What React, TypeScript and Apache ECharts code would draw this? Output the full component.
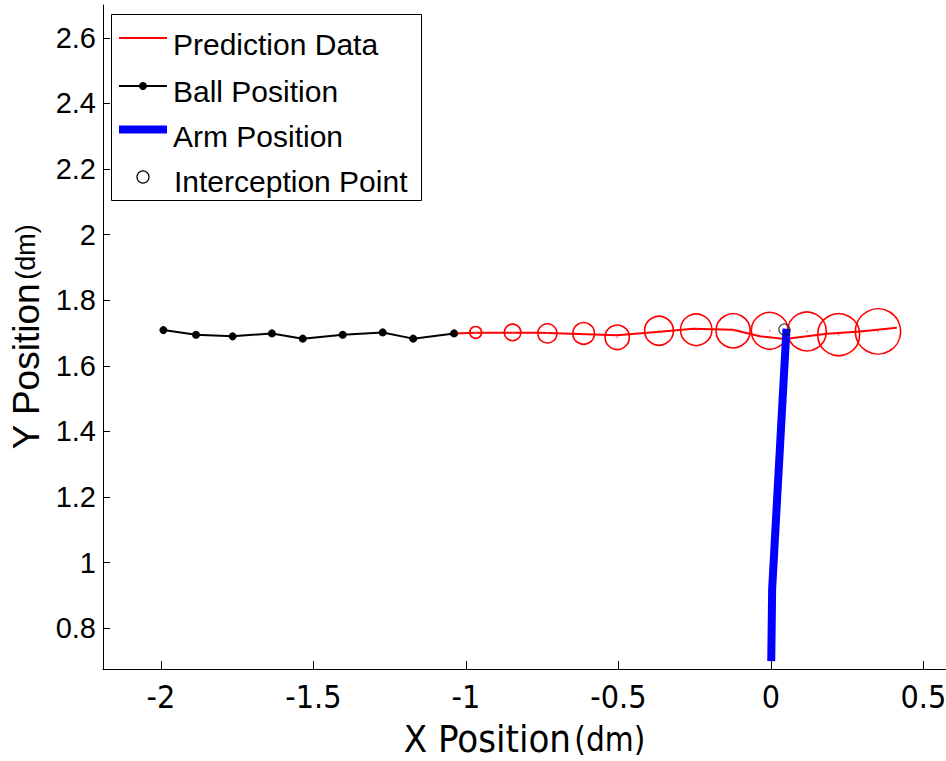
import React, { useEffect, useRef } from "react";
import * as echarts from "echarts";

// Observed ball positions (dm)
const ballX = [-1.992, -1.885, -1.765, -1.636, -1.535, -1.404, -1.273, -1.173, -1.039];
const ballY = [1.709, 1.695, 1.69, 1.699, 1.683, 1.695, 1.702, 1.683, 1.699];

// Predicted trajectory (dm)
const predLineX = [-1.039, -0.967, -0.757, -0.505, -0.364, -0.256, -0.125, -0.036, 0.046, 0.184, 0.292, 0.413];
const predLineY = [1.699, 1.701, 1.701, 1.693, 1.704, 1.713, 1.71, 1.69, 1.682, 1.698, 1.705, 1.716];

// Predicted positions with their uncertainty radius (dm)
const predX = [-0.968, -0.847, -0.733, -0.614, -0.504, -0.367, -0.245, -0.124, -0.004, 0.118, 0.222, 0.351];
const predY = [1.702, 1.702, 1.699, 1.699, 1.687, 1.707, 1.71, 1.707, 1.707, 1.705, 1.695, 1.705];
const predSigma = [0.018, 0.025, 0.029, 0.033, 0.037, 0.044, 0.048, 0.052, 0.056, 0.059, 0.064, 0.069];

// Arm trajectory (dm)
const armX = [0.001, 0.004, 0.051];
const armY = [0.7, 0.92, 1.713];

// Interception point (dm)
const interceptX = [0.044];
const interceptY = [1.711];

// Tick values
const xTicks = [-2, -1.5, -1, -0.5, 0, 0.5];
const yTicks = [0.8, 1, 1.2, 1.4, 1.6, 1.8, 2, 2.2, 2.4, 2.6];

const legendNames = ["Prediction Data", "Ball Position", "Arm Position", "Interception Point"];

const zip = (xs: number[], ys: number[]) => xs.map((x, i) => [x, ys[i]]);
const fmt = (v: number) => String(Math.round(v * 10) / 10);

const FONT = "'Liberation Sans', Arial, sans-serif";
const NARROW = "'Liberation Sans Narrow', 'DejaVu Sans Condensed', 'Liberation Sans', sans-serif";

export default function App() {
  const ref = useRef<HTMLDivElement>(null);

  useEffect(() => {
    if (!ref.current) return;
    const chart = echarts.init(ref.current, undefined, { renderer: "svg" });

    const lx1 = 119;
    const lx2 = 167;
    const tx = 173;

    chart.setOption({
      animation: false,
      backgroundColor: "#fff",
      grid: { left: 103, right: 0, top: 5, bottom: 92, containLabel: false, outerBoundsMode: "none" },
      xAxis: {
        type: "value",
        min: -2.19,
        max: 0.574,
        name: "{a|X Position} {b|(dm)}",
        nameLocation: "middle",
        nameGap: 51,
        nameTextStyle: {
          lineHeight: 38,
          rich: {
            a: { fontSize: 38, lineHeight: 38, fontFamily: NARROW, color: "#000" },
            b: { fontSize: 33, lineHeight: 38, fontFamily: NARROW, color: "#000" },
          },
        },
        axisLine: { show: true, onZero: false, lineStyle: { color: "#000", width: 1 } },
        axisTick: { show: true, inside: true, length: 8, customValues: xTicks, lineStyle: { color: "#000" } },
        axisLabel: {
          customValues: xTicks,
          formatter: (v: number) => fmt(v),
          fontSize: 32,
          fontFamily: NARROW,
          color: "#000",
          margin: 12,
        },
        splitLine: { show: false },
      },
      yAxis: {
        type: "value",
        min: 0.676,
        max: 2.7,
        name: "{a|Y Position} {b|(dm)}",
        nameLocation: "middle",
        nameGap: 56,
        nameTextStyle: {
          rich: {
            a: { fontSize: 37, fontFamily: FONT, color: "#000" },
            b: { fontSize: 27, fontFamily: FONT, color: "#000" },
          },
        },
        axisLine: { show: true, onZero: false, lineStyle: { color: "#000", width: 1 } },
        axisTick: { show: true, inside: true, length: 7, customValues: yTicks, lineStyle: { color: "#000" } },
        axisLabel: {
          customValues: yTicks,
          formatter: (v: number) => fmt(v),
          fontSize: 29,
          fontFamily: FONT,
          color: "#000",
          margin: 7,
        },
        splitLine: { show: false },
      },
      series: [
        {
          name: legendNames[0],
          type: "line",
          data: zip(predLineX, predLineY),
          symbol: "none",
          lineStyle: { color: "#ff0000", width: 2 },
          z: 2,
        },
        {
          name: "Prediction Uncertainty",
          type: "custom",
          data: predX.map((x, i) => [x, predY[i], predSigma[i]]),
          encode: { x: 0, y: 1 },
          clip: false,
          z: 3,
          renderItem: (params: any, api: any) => {
            const c = api.coord([api.value(0), api.value(1)]);
            const r = api.size([0, api.value(2)])[1];
            return {
              type: "group",
              children: [
                {
                  type: "circle",
                  shape: { cx: c[0], cy: c[1], r },
                  style: { fill: "none", stroke: "#ff0000", lineWidth: 1.6 },
                },
                {
                  type: "circle",
                  shape: { cx: c[0], cy: c[1], r: 0.8 },
                  style: { fill: "#ff6666" },
                },
              ],
            };
          },
        },
        {
          name: legendNames[1],
          type: "line",
          data: zip(ballX, ballY),
          symbol: "circle",
          symbolSize: 8,
          itemStyle: { color: "#000" },
          lineStyle: { color: "#000", width: 2 },
          z: 4,
        },
        {
          name: legendNames[2],
          type: "line",
          data: zip(armX, armY),
          symbol: "none",
          lineStyle: { color: "#0000ff", width: 8, cap: "butt" },
          z: 5,
        },
        {
          name: legendNames[3],
          type: "scatter",
          data: zip(interceptX, interceptY),
          symbol: "circle",
          symbolSize: 11,
          itemStyle: { color: "rgba(0,0,0,0)", borderColor: "#222", borderWidth: 1.3 },
          z: 6,
        },
      ],
      graphic: [
        {
          type: "group",
          z: 100,
          children: [
            {
              type: "rect",
              shape: { x: 111.5, y: 14.5, width: 310, height: 186 },
              style: { fill: "#fff", stroke: "#000", lineWidth: 1 },
            },
            { type: "line", shape: { x1: lx1, y1: 38, x2: lx2, y2: 38 }, style: { stroke: "#ff0000", lineWidth: 2 } },
            { type: "text", x: tx, y: 44, style: { text: legendNames[0], font: `30px ${FONT}`, fill: "#000", verticalAlign: "middle" } },
            { type: "line", shape: { x1: lx1, y1: 86, x2: lx2, y2: 86 }, style: { stroke: "#000", lineWidth: 2 } },
            { type: "circle", shape: { cx: 143, cy: 86, r: 4 }, style: { fill: "#000" } },
            { type: "text", x: tx, y: 91, style: { text: legendNames[1], font: `30px ${FONT}`, fill: "#000", verticalAlign: "middle" } },
            { type: "line", shape: { x1: lx1, y1: 129.5, x2: lx2, y2: 129.5 }, style: { stroke: "#0000ff", lineWidth: 8 } },
            { type: "text", x: tx, y: 136, style: { text: legendNames[2], font: `30px ${FONT}`, fill: "#000", verticalAlign: "middle" } },
            { type: "circle", shape: { cx: 143, cy: 177, r: 6 }, style: { fill: "none", stroke: "#000", lineWidth: 1.2 } },
            { type: "text", x: tx + 1, y: 181, style: { text: legendNames[3], font: `30px ${FONT}`, fill: "#000", verticalAlign: "middle" } },
          ],
        },
      ],
    });

    return () => chart.dispose();
  }, []);

  return (
    <div
      ref={ref}
      style={{ position: "fixed", left: 0, top: 0, width: 946, height: 761, background: "#fff" }}
    />
  );
}
